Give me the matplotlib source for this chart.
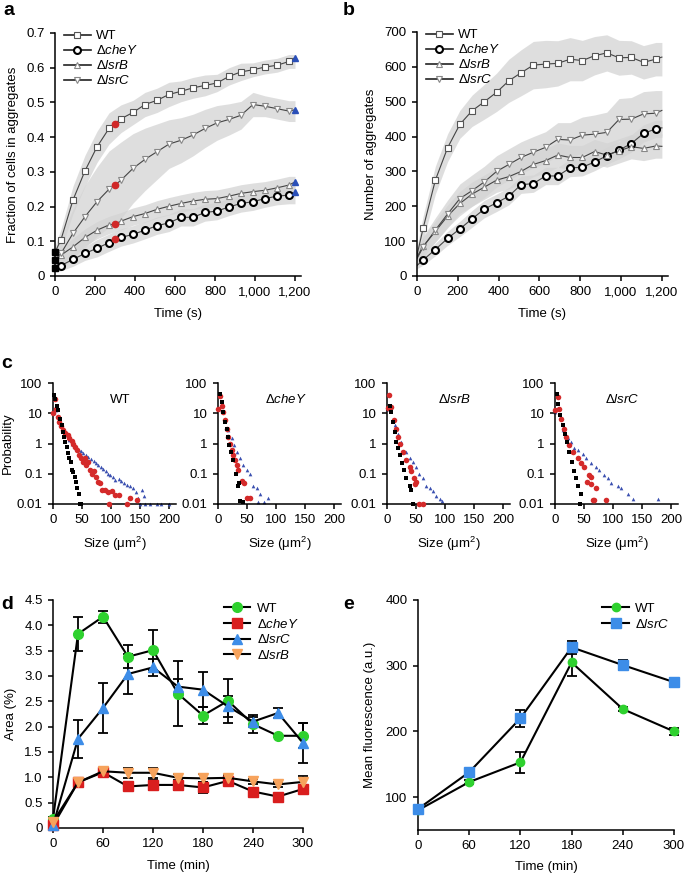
import numpy as np
import matplotlib
matplotlib.use("Agg")
import matplotlib.pyplot as plt
from matplotlib.lines import Line2D

plt.rcParams['font.family'] = ['Liberation Sans', 'DejaVu Sans']
plt.rcParams['mathtext.fontset'] = 'custom'
plt.rcParams['mathtext.rm'] = 'Liberation Sans'
plt.rcParams['mathtext.it'] = 'Liberation Sans:italic'
plt.rcParams['font.size'] = 9.5
plt.rcParams['axes.linewidth'] = 1.1
plt.rcParams['xtick.major.width'] = 1.1
plt.rcParams['ytick.major.width'] = 1.1

FS = 9.5

# ---------------- data: panels a & b ----------------
t_ab = [30, 90, 150, 210, 270, 330, 390, 450, 510, 570, 630, 690, 750, 810, 870, 930, 990, 1050, 1110, 1170]
labels_ab = ['WT', 'ΔcheY', 'ΔlsrB', 'ΔlsrC']

a_wt = [0.105, 0.219, 0.303, 0.372, 0.425, 0.453, 0.471, 0.494, 0.506, 0.523, 0.532, 0.542, 0.549, 0.556, 0.575, 0.588, 0.594, 0.602, 0.607, 0.618]
a_chey = [0.030, 0.048, 0.065, 0.080, 0.096, 0.111, 0.120, 0.132, 0.145, 0.153, 0.169, 0.169, 0.183, 0.187, 0.199, 0.209, 0.214, 0.223, 0.230, 0.233]
a_lsrb = [0.060, 0.084, 0.111, 0.132, 0.147, 0.158, 0.171, 0.180, 0.192, 0.201, 0.209, 0.216, 0.221, 0.223, 0.230, 0.238, 0.243, 0.247, 0.254, 0.262]
a_lsrc = [0.065, 0.123, 0.171, 0.214, 0.250, 0.276, 0.310, 0.336, 0.358, 0.380, 0.391, 0.406, 0.425, 0.441, 0.451, 0.463, 0.494, 0.489, 0.482, 0.475]
a_wt_sd = [0.03, 0.04, 0.045, 0.045, 0.045, 0.04, 0.035, 0.035, 0.035, 0.035, 0.03, 0.03, 0.03, 0.025, 0.025, 0.025, 0.02, 0.02, 0.02, 0.02]
a_chey_sd = [0.015, 0.02, 0.02, 0.025, 0.025, 0.025, 0.025, 0.025, 0.025, 0.025, 0.025, 0.025, 0.025, 0.025, 0.025, 0.025, 0.025, 0.025, 0.025, 0.025]
a_lsrb_sd = [0.02, 0.025, 0.025, 0.025, 0.025, 0.025, 0.025, 0.025, 0.025, 0.025, 0.025, 0.025, 0.025, 0.025, 0.025, 0.025, 0.025, 0.025, 0.025, 0.025]
a_lsrc_sd = [0.05, 0.07, 0.09, 0.10, 0.11, 0.11, 0.10, 0.09, 0.08, 0.07, 0.065, 0.06, 0.055, 0.05, 0.045, 0.04, 0.035, 0.03, 0.03, 0.03]
a_start = [0.068, 0.022, 0.046, 0.046]      # t = 0 (WT, cheY, lsrB, lsrC)
a_t0_squares = [0.068, 0.046, 0.022]
a_red300 = [0.439, 0.108, 0.150, 0.262]
a_blue1200 = [0.629, 0.241, 0.271, 0.479]

b_wt = [137, 275, 368, 435, 474, 500, 527, 560, 583, 605, 608, 610, 622, 618, 632, 640, 626, 627, 613, 622]
b_chey = [46, 76, 108, 135, 164, 192, 210, 229, 262, 265, 287, 287, 310, 312, 327, 345, 361, 380, 409, 422]
b_lsrb = [85, 128, 172, 208, 235, 255, 275, 285, 300, 320, 331, 347, 340, 340, 357, 347, 359, 371, 366, 373]
b_lsrc = [83, 132, 178, 222, 245, 270, 300, 320, 340, 355, 369, 392, 390, 404, 407, 412, 449, 450, 465, 467]
b_wt_sd = [35, 40, 40, 40, 45, 50, 55, 62, 66, 68, 68, 65, 62, 58, 55, 52, 50, 48, 48, 48]
b_chey_sd = [15, 18, 20, 22, 24, 25, 25, 25, 25, 25, 25, 25, 25, 25, 25, 25, 25, 25, 25, 25]
b_lsrb_sd = [25, 30, 32, 35, 35, 35, 35, 35, 35, 35, 35, 35, 35, 35, 35, 35, 35, 35, 35, 35]
b_lsrc_sd = [30, 35, 40, 42, 45, 45, 45, 45, 45, 45, 45, 48, 50, 52, 55, 58, 60, 62, 64, 65]
b_start = [60, 30, 55, 50]
b_end1200 = [628, 425, 372, 475]

# ---------------- data: panel c ----------------
c_titles = ['WT', 'ΔcheY', 'ΔlsrB', 'ΔlsrC']
c_wt_k_x = [1.7, 4, 6.3, 8.6, 12, 15, 16.7, 19, 21, 23.5, 26, 28, 30.5, 32, 35, 38, 39.6, 42, 45, 46.5, 49]
c_wt_k_y = [39, 29, 18, 12.5, 6.6, 4, 2.4, 1.66, 1.1, 0.78, 0.5, 0.32, 0.24, 0.13, 0.11, 0.08, 0.055, 0.033, 0.021, 0.01, 0.01]
c_wt_r_x = [0.6, 3, 5, 8.6, 11, 14, 18, 21, 25, 28, 32, 35, 38.5, 42, 45, 48, 51, 54.6, 57, 61, 64, 67, 71, 74, 78, 81, 84, 90, 94, 101, 107, 113, 97, 127, 132, 145]
c_wt_r_y = [10.5, 30, 14, 7.6, 5.2, 3.8, 2.9, 2.3, 1.9, 1.5, 1.2, 0.93, 0.76, 0.6, 0.41, 0.32, 0.24, 0.32, 0.19, 0.24, 0.13, 0.1, 0.12, 0.08, 0.055, 0.048, 0.03, 0.03, 0.024, 0.026, 0.02, 0.02, 0.01, 0.01, 0.016, 0.014]
c_wt_b_x = [1.7, 6, 11, 15.5, 19, 23.5, 28, 33, 36, 40, 44, 48, 52, 57, 61, 65, 70, 74, 78, 82, 87, 91, 95, 99, 104, 107, 113, 117, 122, 128, 133, 138, 143, 147, 153, 157, 158, 150, 167, 179, 187, 200]
c_wt_b_y = [11, 12.5, 6.6, 4, 2.8, 1.9, 1.3, 1.0, 0.84, 0.7, 0.6, 0.56, 0.47, 0.41, 0.36, 0.3, 0.26, 0.22, 0.19, 0.17, 0.14, 0.12, 0.1, 0.09, 0.08, 0.062, 0.067, 0.058, 0.05, 0.044, 0.038, 0.034, 0.024, 0.016, 0.03, 0.018, 0.01, 0.01, 0.01, 0.01, 0.01, 0.01]

c_chey_k_x = [2.9, 6.3, 9.2, 12, 15, 16.7, 19, 22.4, 26.4, 30.5, 34, 36, 38, 43.7]
c_chey_k_y = [44, 24, 11, 5.2, 3.1, 1.7, 0.9, 0.53, 0.28, 0.1, 0.04, 0.05, 0.013, 0.012]
c_chey_r_x = [0.6, 4, 6.3, 9.2, 12, 15, 17.8, 20.7, 23.6, 26.4, 29.3, 32, 35, 40.8, 45.4, 49.4, 55]
c_chey_r_y = [14, 37, 18, 11, 5.9, 3.1, 1.7, 1.0, 0.6, 0.41, 0.28, 0.19, 0.13, 0.058, 0.048, 0.016, 0.016]
c_chey_b_x = [1.7, 7.5, 12, 17.8, 23.6, 28, 32, 38, 43.7, 49.4, 55, 61, 66.7, 72.4, 80, 85.6, 69.5]
c_chey_b_y = [14, 17, 6.7, 2.8, 1.5, 0.9, 0.53, 0.32, 0.19, 0.13, 0.1, 0.04, 0.033, 0.022, 0.012, 0.016, 0.012]

c_lsrb_k_x = [4.6, 7.5, 10.3, 13.2, 16, 19, 21.8, 26, 28.7, 33, 39, 42, 45]
c_lsrb_k_y = [18, 11, 5.2, 2.4, 1.1, 0.7, 0.41, 0.22, 0.13, 0.07, 0.04, 0.03, 0.01]
c_lsrb_r_x = [1.1, 3.4, 7.5, 11.5, 15, 19, 23, 27.6, 33, 39, 42, 46, 50.6, 47.7, 56, 62]
c_lsrb_r_y = [15, 39, 16, 6, 3.1, 1.7, 1.0, 0.53, 0.28, 0.17, 0.12, 0.07, 0.055, 0.045, 0.01, 0.01]
c_lsrb_b_x = [0, 13.2, 19, 24.7, 33, 39, 45, 50.6, 56, 62, 68, 73.6, 79, 85, 91, 94]
c_lsrb_b_y = [14, 4, 2.1, 1.1, 0.53, 0.32, 0.25, 0.17, 0.1, 0.07, 0.04, 0.033, 0.027, 0.018, 0.015, 0.013]

c_lsrc_k_x = [3.4, 5.7, 9.2, 13.2, 17.2, 20.7, 24.7, 28.7, 32, 36, 39, 45, 43.7]
c_lsrc_k_y = [44, 21, 8.6, 4, 2.1, 1.1, 0.53, 0.25, 0.12, 0.07, 0.04, 0.022, 0.01]
c_lsrc_r_x = [0, 4.6, 7.5, 10.3, 15, 19, 24.7, 30.5, 39, 45, 50.6, 59, 62, 56, 62, 70.7, 65, 68, 88]
c_lsrc_r_y = [12.5, 35, 14, 6.7, 3.1, 1.7, 0.9, 0.53, 0.32, 0.22, 0.17, 0.09, 0.08, 0.055, 0.045, 0.035, 0.014, 0.014, 0.014]
c_lsrc_b_x = [0, 13.2, 21.8, 27.6, 33, 39, 47.7, 53.4, 62, 70.7, 76.4, 85, 91, 96.6, 108, 114, 125, 134, 177]
c_lsrc_b_y = [11, 2.7, 1.5, 1.1, 0.7, 0.6, 0.45, 0.32, 0.22, 0.17, 0.13, 0.09, 0.07, 0.05, 0.039, 0.033, 0.022, 0.015, 0.015]

# ---------------- data: panel d ----------------
t_d = [0, 30, 60, 90, 120, 150, 180, 210, 240, 270, 300]
d_wt = [0.18, 3.83, 4.17, 3.38, 3.51, 2.65, 2.22, 2.51, 2.05, 1.82, 1.82]
d_wt_err = [0.03, 0.33, 0.12, 0.23, 0.40, 0.64, 0.17, 0.43, 0.18, 0.02, 0.25]
d_chey = [0.05, 0.90, 1.10, 0.82, 0.85, 0.85, 0.80, 0.93, 0.72, 0.62, 0.77]
d_chey_err = [0.01, 0.05, 0.05, 0.05, 0.10, 0.10, 0.10, 0.05, 0.05, 0.05, 0.05]
d_lsrc = [0.05, 1.76, 2.37, 3.04, 3.17, 2.79, 2.73, 2.40, 2.10, 2.27, 1.68]
d_lsrc_err = [0.02, 0.38, 0.50, 0.40, 0.17, 0.15, 0.35, 0.20, 0.10, 0.10, 0.40]
d_lsrb = [0.12, 0.90, 1.12, 1.09, 1.09, 0.99, 0.98, 0.99, 0.92, 0.86, 0.91]
d_lsrb_err = [0.02, 0.05, 0.05, 0.10, 0.10, 0.08, 0.08, 0.05, 0.05, 0.05, 0.12]

# ---------------- data: panel e ----------------
t_e = [0, 60, 120, 180, 240, 300]
e_wt = [80, 123, 153, 305, 234, 200]
e_wt_err = [3, 3, 16, 20, 3, 5]
e_lsrc = [82, 138, 220, 328, 301, 275]
e_lsrc_err = [3, 3, 13, 10, 7, 7]

W, H = 685, 876
fig = plt.figure(figsize=(W / 100, H / 100), dpi=100)


def ax_px(l, t, r, b):
    return fig.add_axes([l / W, 1 - b / H, (r - l) / W, (b - t) / H])


def style(ax):
    ax.spines['top'].set_visible(False)
    ax.spines['right'].set_visible(False)
    ax.tick_params(direction='out', length=3.5, labelsize=FS, pad=4)


def ital(lbl):
    if lbl.startswith('Δ'):
        return 'Δ$\\mathit{' + lbl[1:] + '}$'
    return lbl


mk_styles = [
    dict(marker='s', ms=4.3, mfc='white', mec='#555555', mew=0.8),
    dict(marker='o', ms=5.0, mfc='white', mec='black', mew=1.5),
    dict(marker='^', ms=4.5, mfc='white', mec='#888888', mew=0.8),
    dict(marker='v', ms=4.5, mfc='white', mec='#888888', mew=0.8),
]
band_col = '#d4d4d4'


def time_course(ax, series, sds, starts, extra_t, extra_vals, ylim, yticks, yticklabels, ylabel):
    t = np.array(t_ab, float)
    for vals, sd, st in zip(series, sds, starts):
        tt = np.concatenate([[0], t, [1200]])
        v = np.array(vals, float)
        s = np.array(sd, float)
        vv = np.concatenate([[st], v, [v[-1]]])
        ss = np.concatenate([[s[0] * 0.6], s, [s[-1]]])
        ax.fill_between(tt, vv - ss, vv + ss, color=band_col, alpha=0.75, lw=0, zorder=1)
    handles = []
    for i, (vals, st) in enumerate(zip(series, starts)):
        tt = list([0] + t_ab)
        vv = list([st] + list(vals))
        if extra_t is not None:
            for et, ev in zip(extra_t, extra_vals):
                tt.append(et)
                vv.append(ev[i])
        order = np.argsort(tt)
        tt = np.array(tt)[order]
        vv = np.array(vv)[order]
        ax.plot(tt, vv, color='#444444', lw=0.8, zorder=2)
        ax.plot(t_ab, vals, ls='none', zorder=3, clip_on=False, **mk_styles[i])
        handles.append(Line2D([], [], color='#222222', lw=1.2, **mk_styles[i]))
    ax.set_ylim(*ylim)
    ax.set_xlim(0, 1230)
    ax.set_xticks([0, 200, 400, 600, 800, 1000, 1200])
    ax.set_xticklabels(['0', '200', '400', '600', '800', '1,000', '1,200'])
    ax.set_yticks(yticks)
    ax.set_yticklabels(yticklabels)
    ax.set_xlabel('Time (s)', fontsize=FS, labelpad=7)
    ax.set_ylabel(ylabel, fontsize=FS, labelpad=5)
    style(ax)
    ax.legend(handles, [ital(l) for l in labels_ab], loc='upper left', bbox_to_anchor=(0.0, 1.05),
              frameon=False, fontsize=FS, handlelength=2.0, labelspacing=0.15, handletextpad=0.4,
              borderaxespad=0.3)


# ---- panel a ----
axa = ax_px(55, 33, 301, 276)
time_course(axa, [a_wt, a_chey, a_lsrb, a_lsrc], [a_wt_sd, a_chey_sd, a_lsrb_sd, a_lsrc_sd], a_start,
            [300, 1200], [a_red300, a_blue1200], (0, 0.7), np.arange(0, 0.71, 0.1),
            ['0', '0.1', '0.2', '0.3', '0.4', '0.5', '0.6', '0.7'], 'Fraction of cells in aggregates')
axa.plot([300] * 4, a_red300, ls='none', marker='o', ms=4.5, color='#d02828', zorder=4)
axa.plot([1200] * 4, a_blue1200, ls='none', marker='^', ms=5, color='#2a4fb8', zorder=4, clip_on=False)
axa.plot([0] * 3, a_t0_squares, ls='none', marker='s', ms=4.5, color='black', zorder=5, clip_on=False)

# ---- panel b ----
axb = ax_px(417, 32, 668, 276)
time_course(axb, [b_wt, b_chey, b_lsrb, b_lsrc], [b_wt_sd, b_chey_sd, b_lsrb_sd, b_lsrc_sd], b_start,
            [1200], [b_end1200], (0, 700), np.arange(0, 701, 100),
            [str(v) for v in range(0, 701, 100)], 'Number of aggregates')

# ---- panel c ----
c_sets = [
    (c_wt_k_x, c_wt_k_y, c_wt_r_x, c_wt_r_y, c_wt_b_x, c_wt_b_y),
    (c_chey_k_x, c_chey_k_y, c_chey_r_x, c_chey_r_y, c_chey_b_x, c_chey_b_y),
    (c_lsrb_k_x, c_lsrb_k_y, c_lsrb_r_x, c_lsrb_r_y, c_lsrb_b_x, c_lsrb_b_y),
    (c_lsrc_k_x, c_lsrc_k_y, c_lsrc_r_x, c_lsrc_r_y, c_lsrc_b_x, c_lsrc_b_y),
]
c_lefts = [53, 218, 387, 555]
for i, (left, dset, title) in enumerate(zip(c_lefts, c_sets, c_titles)):
    ax = ax_px(left, 383, left + 123, 504)
    kx, ky, rx, ry, bx, by = dset
    ax.scatter(bx, by, marker='^', s=7, color='#3a4fb0', lw=0, zorder=2, clip_on=False)
    ax.scatter(rx, ry, marker='o', s=16, color='#d42a2a', lw=0, zorder=3, clip_on=False)
    ax.scatter(kx, ky, marker='s', s=6, color='black', lw=0, zorder=4, clip_on=False)
    ax.set_yscale('log')
    ax.set_ylim(0.01, 100)
    ax.set_xlim(0, 212)
    ax.set_yticks([0.01, 0.1, 1, 10, 100])
    ax.set_yticklabels(['0.01', '0.1', '1', '10', '100'])
    ax.minorticks_off()
    ax.set_xticks([0, 50, 100, 150, 200])
    style(ax)
    ax.set_xlabel('Size (μm$^{2}$)', fontsize=FS, labelpad=6)
    if i == 0:
        ax.set_ylabel('Probability', fontsize=FS, labelpad=2)
    ax.text(0.55, 0.86, ital(title), transform=ax.transAxes, ha='center', va='center', fontsize=FS)

# ---- panel d ----
axd = ax_px(53, 600, 303, 828)
d_series = [(d_wt, d_wt_err, 'o', '#2ed12e', 'WT', 7),
            (d_chey, d_chey_err, 's', '#d91e1e', 'ΔcheY', 7),
            (d_lsrc, d_lsrc_err, '^', '#3d8de8', 'ΔlsrC', 7),
            (d_lsrb, d_lsrb_err, 'v', '#f7a35c', 'ΔlsrB', 7)]
dh = []
for vals, err, mk, col, lab, ms in d_series:
    axd.errorbar(t_d, vals, yerr=err, color='black', lw=1.5, elinewidth=1.3, capsize=3.5, capthick=1.3,
                 ls='-', marker=mk, ms=ms, mfc=col, mec=col, clip_on=False, zorder=3)
    dh.append(Line2D([], [], color='black', lw=1.5, marker=mk, ms=ms, mfc=col, mec=col))
axd.set_xlim(0, 300)
axd.set_ylim(0, 4.5)
axd.set_xticks(range(0, 301, 60))
axd.set_yticks(np.arange(0, 4.51, 0.5))
axd.set_yticklabels(['0', '0.5', '1.0', '1.5', '2.0', '2.5', '3.0', '3.5', '4.0', '4.5'])
style(axd)
axd.set_xlabel('Time (min)', fontsize=FS, labelpad=7)
axd.set_ylabel('Area (%)', fontsize=FS, labelpad=5)
axd.legend(dh, [ital(s[4]) for s in d_series], loc='upper right', bbox_to_anchor=(1.03, 1.04), frameon=False,
           fontsize=FS, handlelength=2.0, labelspacing=0.2, handletextpad=0.5)

# ---- panel e ----
axe = ax_px(418, 600, 674, 830)
e_series = [(e_wt, e_wt_err, 'o', '#2ed12e', 'WT', 6),
            (e_lsrc, e_lsrc_err, 's', '#3d8de8', 'ΔlsrC', 6.5)]
eh = []
for vals, err, mk, col, lab, ms in e_series:
    axe.errorbar(t_e, vals, yerr=err, color='black', lw=1.5, elinewidth=1.3, capsize=3.5, capthick=1.3,
                 ls='-', marker=mk, ms=ms, mfc=col, mec=col, clip_on=False, zorder=3)
    eh.append(Line2D([], [], color='black', lw=1.5, marker=mk, ms=ms, mfc=col, mec=col))
axe.set_xlim(0, 300)
axe.set_ylim(50, 400)
axe.set_xticks(range(0, 301, 60))
axe.set_yticks([100, 200, 300, 400])
style(axe)
axe.set_xlabel('Time (min)', fontsize=FS, labelpad=6)
axe.set_ylabel('Mean fluorescence (a.u.)', fontsize=FS, labelpad=7)
axe.legend(eh, [ital(s[4]) for s in e_series], loc='upper right', bbox_to_anchor=(1.03, 1.04), frameon=False,
           fontsize=FS, handlelength=2.0, labelspacing=0.2, handletextpad=0.5)

# ---- panel letters ----
for lab, x, y in [('a', 3, 2), ('b', 343, 2), ('c', 1, 355), ('d', 1, 596), ('e', 343, 596)]:
    fig.text(x / W, 1 - y / H, lab, fontsize=14, fontweight='bold', va='top', ha='left')

fig.savefig('out.png', dpi=100)
